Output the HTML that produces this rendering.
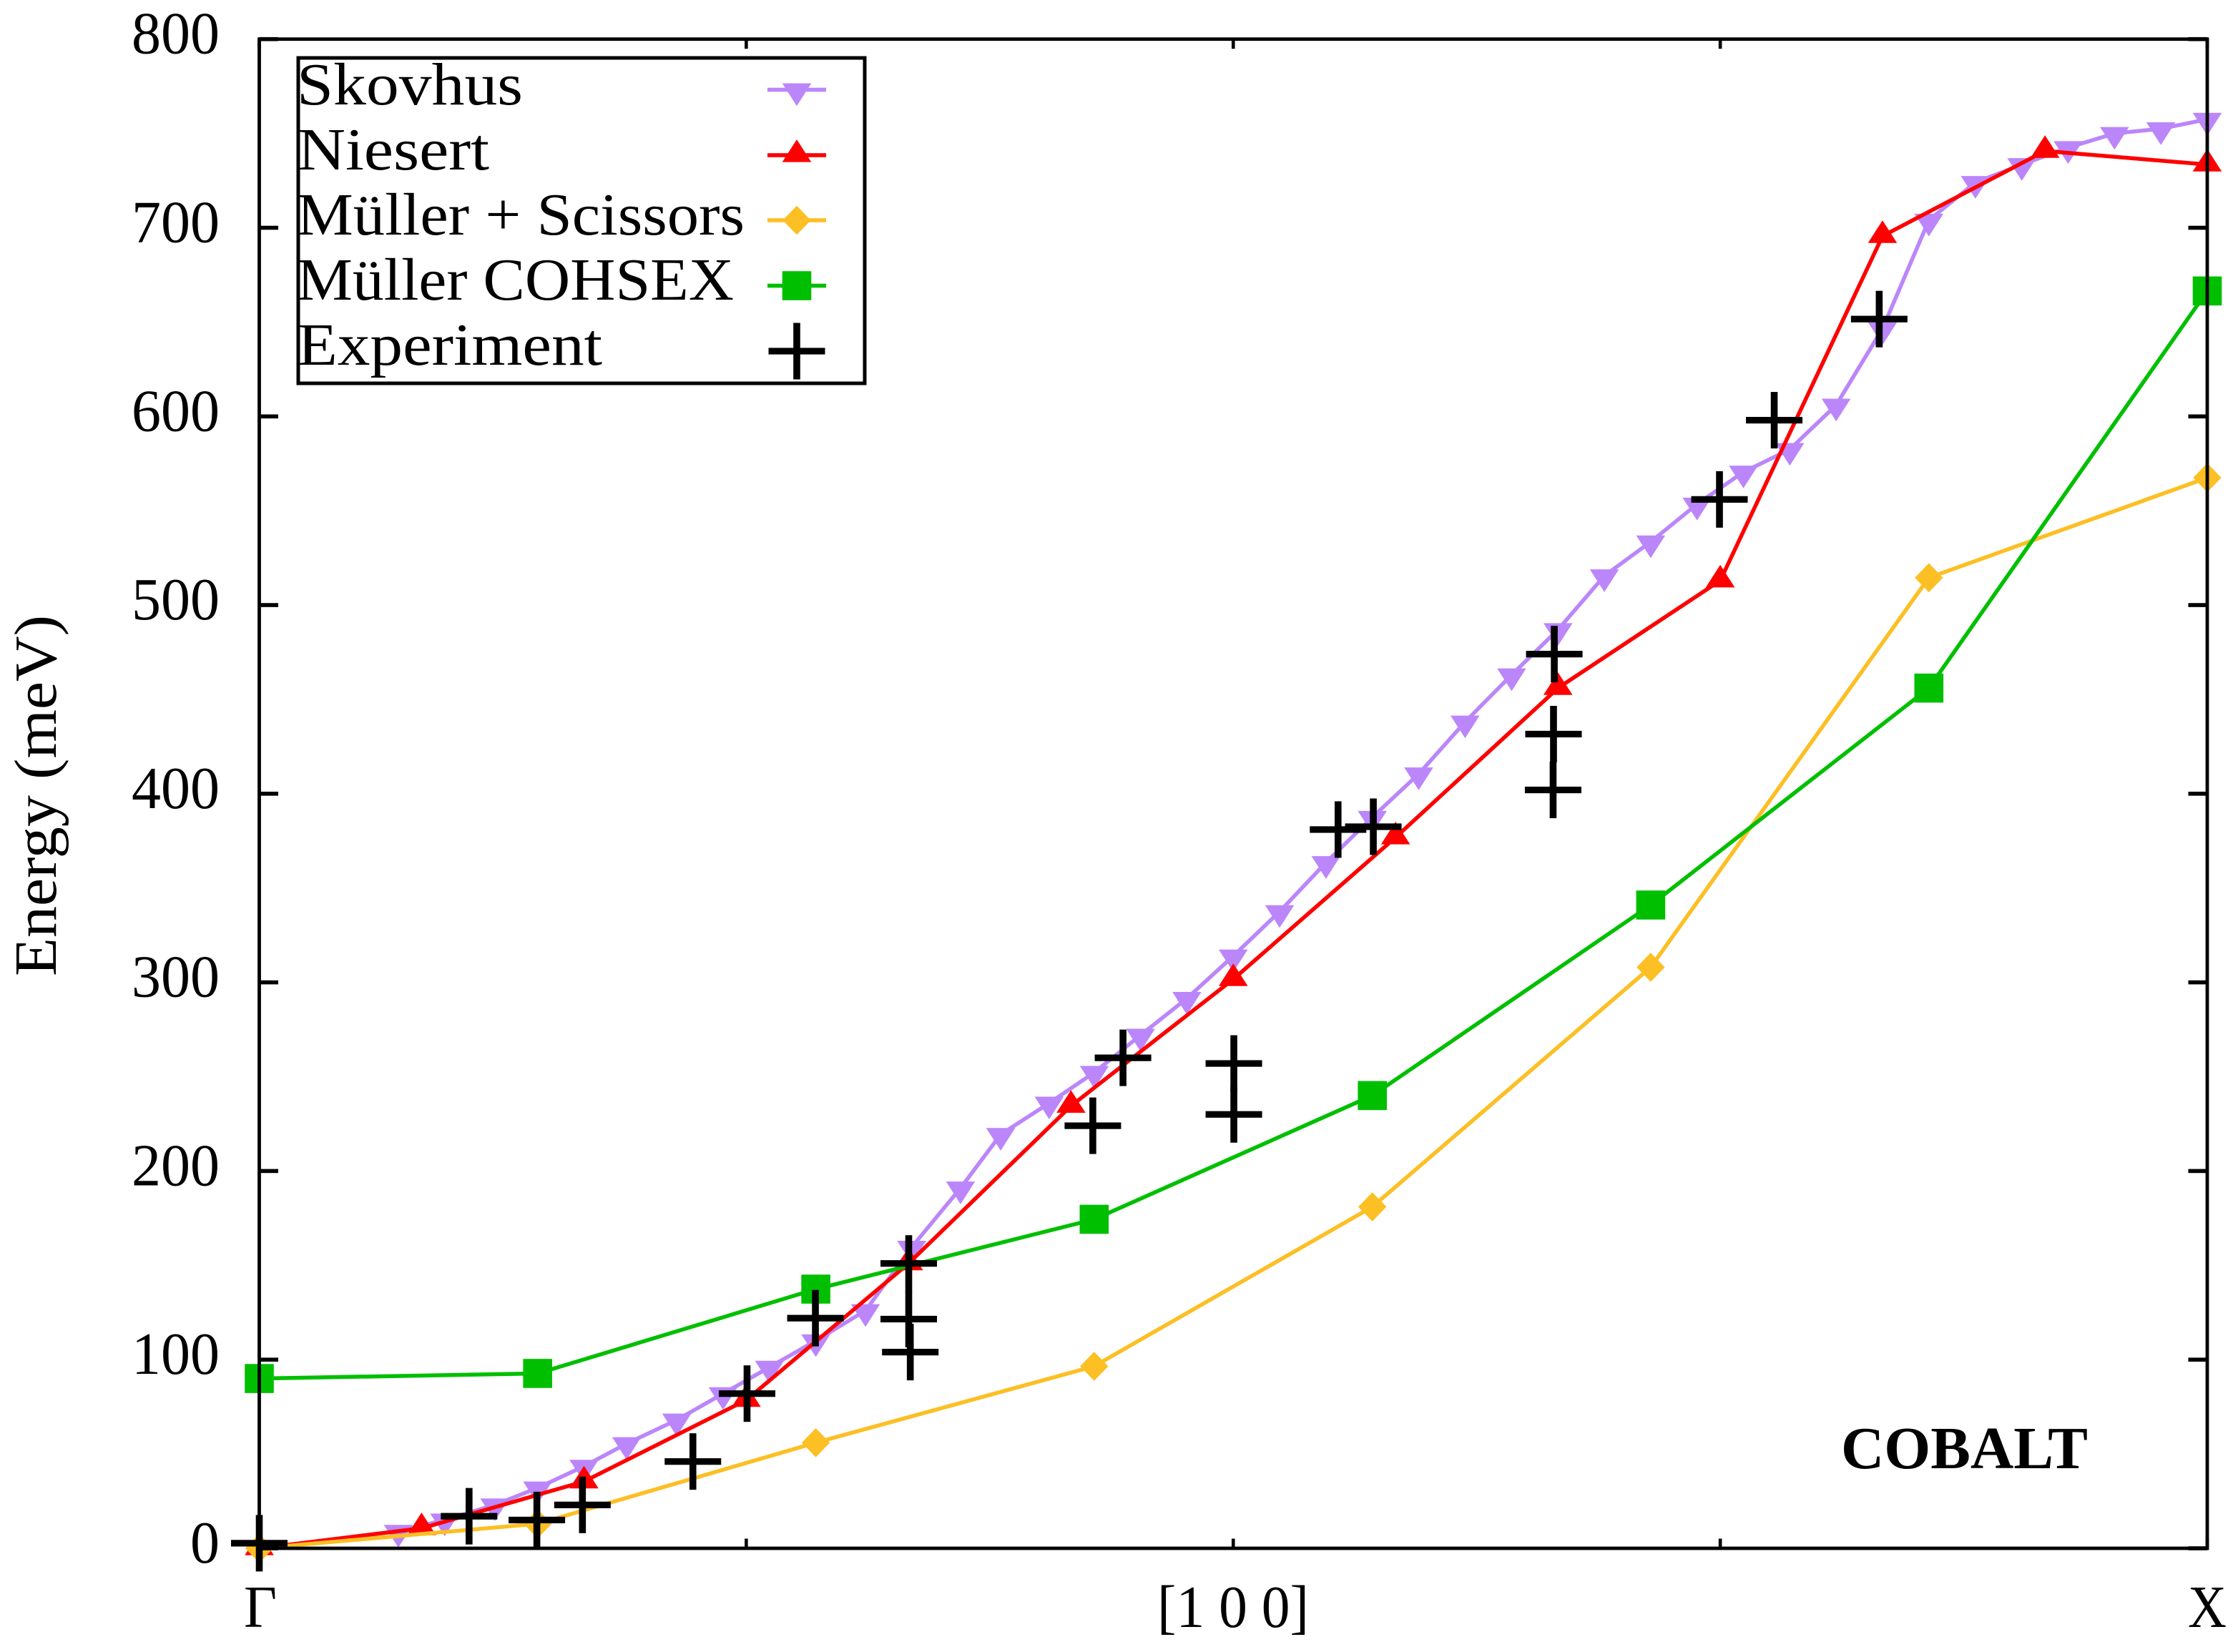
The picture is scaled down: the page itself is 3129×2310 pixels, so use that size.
<!DOCTYPE html>
<html lang="en">
<head>
<meta charset="utf-8">
<title>Cobalt magnon dispersion</title>
<style>
html,body{margin:0;padding:0;background:#fff;}
svg{display:block;}
text{font-family:"Liberation Serif",serif;fill:#000;}
</style>
</head>
<body>
<svg id="chart" xmlns="http://www.w3.org/2000/svg" width="3129" height="2310" viewBox="0 0 3129 2310">
  <rect x="0" y="0" width="3129" height="2310" fill="#ffffff"/>
  <g id="series-layer"></g>
  <g id="axis-layer"></g>
  <text transform="translate(78,1365) rotate(-90)" font-size="84" textLength="505" lengthAdjust="spacingAndGlyphs">Energy (meV)</text>
  <text x="1618" y="2275" font-size="84" textLength="212" lengthAdjust="spacingAndGlyphs">[1 0 0]</text>
  <text x="341" y="2275" font-size="84" textLength="46" lengthAdjust="spacingAndGlyphs">Γ</text>
  <text x="3059" y="2275" font-size="84" textLength="54" lengthAdjust="spacingAndGlyphs">X</text>
  <text x="2574" y="2053" font-size="84" font-weight="bold" textLength="345" lengthAdjust="spacingAndGlyphs">COBALT</text>
  <g>
    <rect x="417" y="81" width="792" height="455" fill="none" stroke="#000" stroke-width="5"/>
    <text x="415" y="146" font-size="84" textLength="316" lengthAdjust="spacingAndGlyphs">Skovhus</text>
    <text x="416" y="237" font-size="84" textLength="268" lengthAdjust="spacingAndGlyphs">Niesert</text>
    <text x="415" y="328" font-size="84" textLength="626" lengthAdjust="spacingAndGlyphs">Müller + Scissors</text>
    <text x="415" y="419" font-size="84" textLength="611" lengthAdjust="spacingAndGlyphs">Müller COHSEX</text>
    <text x="416" y="510" font-size="84" textLength="426" lengthAdjust="spacingAndGlyphs">Experiment</text>
    <g id="legend-keys"></g>
  </g>
</svg>
<script>
// ---- chart data ----
const yTickValues = [0, 100, 200, 300, 400, 500, 600, 700, 800];
const xTickValues = [0, 0.25, 0.5, 0.75, 1];

const skovhusX = [0.0714,0.0952,0.1209,0.1429,0.1667,0.1886,0.2143,0.2381,0.2619,0.2857,0.3112,0.3349,0.3600,0.3806,0.4055,0.4287,0.4524,0.4762,0.5000,0.5238,0.5476,0.5714,0.5952,0.6190,0.6429,0.6667,0.6905,0.7143,0.7381,0.7619,0.7857,0.8095,0.8333,0.8571,0.8810,0.9048,0.9286,0.9524,0.9762,1.0000];
const skovhusY = [9,15,23,32,43.5,55.5,68,82,96,110,126,159.6,191,219.4,236,252.3,272,291.5,314,337.5,363.5,387.5,410.5,438,463,487,515.5,533.5,553.5,570.5,582.5,606,646.5,704,724,733.5,742.5,750,752.5,757.5];

const niesertX = [0,0.0833,0.1667,0.25,0.3333,0.4167,0.5,0.5833,0.6667,0.75,0.8333,0.9167,1];
const niesertY = [0,10.6,35.4,78.6,151,234.5,301.7,376.8,456,513,695.6,740.7,733.5];

const scissorsX = [0,0.1429,0.2857,0.4286,0.5714,0.7143,0.8571,1];
const scissorsY = [0,13,56,96.5,181,308,514.5,567.5];

const cohsexX = [0,0.1429,0.2857,0.4286,0.5714,0.7143,0.8571,1];
const cohsexY = [90,92.7,137.4,174.4,240,341,456,666.5];

const experimentX = [0,0.1077,0.1425,0.1659,0.2226,0.2504,0.2855,0.3334,0.3334,0.3342,0.4279,0.4434,0.5003,0.5003,0.5538,0.5719,0.6648,0.6644,0.6642,0.7496,0.7777,0.8316];
const experimentY = [2.7,17,15,23,46,82,122,151,121.5,104,224,260,257,230,381,382.5,474,431.6,402,556,598,651.6];

// ---- axis functions ----
const plotLeft = 362.5, plotRight = 3086, plotTop = 54.7, plotBottom = 2165;
const xScale = t => plotLeft + (plotRight - plotLeft) * t;
const yScale = v => plotBottom - (plotBottom - plotTop) * v / 800;

const NS = 'http://www.w3.org/2000/svg';
function mk(tag, attrs, parent) {
  const el = document.createElementNS(NS, tag);
  for (const k in attrs) el.setAttribute(k, attrs[k]);
  parent.appendChild(el);
  return el;
}

function marker(kind, x, y, color, parent) {
  if (kind === 'down') {
    return mk('polygon', {points: `${x-20.3},${y-9} ${x+20.3},${y-9} ${x},${y+22.7}`, fill: color}, parent);
  }
  if (kind === 'up') {
    return mk('polygon', {points: `${x-20.3},${y+9.6} ${x+20.3},${y+9.6} ${x},${y-22}`, fill: color}, parent);
  }
  if (kind === 'diamond') {
    return mk('polygon', {points: `${x-19.7},${y} ${x},${y-20.3} ${x+19.7},${y} ${x},${y+20.3}`, fill: color}, parent);
  }
  if (kind === 'square') {
    return mk('rect', {x: x-20.3, y: y-20.3, width: 40.6, height: 40.6, fill: color}, parent);
  }
  const g = mk('g', {}, parent);
  mk('rect', {x: x-39.5, y: y-4.6, width: 79, height: 9.2, fill: color}, g);
  mk('rect', {x: x-4.8, y: y-39.5, width: 9.6, height: 79, fill: color}, g);
  return g;
}

const seriesLayer = document.getElementById('series-layer');
const axisLayer = document.getElementById('axis-layer');
const legendKeys = document.getElementById('legend-keys');

function drawSeries(key, xs, ys, color, kind, hasLine) {
  const g = mk('g', {}, seriesLayer);
  
  
  if (hasLine) {
    const pts = xs.map((t, i) => xScale(t).toFixed(1) + ',' + yScale(ys[i]).toFixed(1)).join(' ');
    const line = mk('polyline', {points: pts, fill: 'none', stroke: color, 'stroke-width': 5.5, 'stroke-linejoin': 'miter'}, g);
    
    
  }
  xs.forEach((t, i) => {
    const m = marker(kind, xScale(t), yScale(ys[i]), color, g);
    
    
  });
}

drawSeries('skovhus', skovhusX, skovhusY, '#bb86fa', 'down', true);
drawSeries('niesert', niesertX, niesertY, '#ff0000', 'up', true);
drawSeries('muller-scissors', scissorsX, scissorsY, '#fcbf24', 'diamond', true);
drawSeries('muller-cohsex', cohsexX, cohsexY, '#00bf00', 'square', true);
drawSeries('experiment', experimentX, experimentY, '#000000', 'plus', false);

// ---- axes ----
const frame = mk('rect', {x: plotLeft, y: plotTop, width: plotRight - plotLeft, height: plotBottom - plotTop, fill: 'none', stroke: '#000', 'stroke-width': 4.8}, axisLayer);



yTickValues.forEach(v => {
  const y = yScale(v);
  const left = mk('rect', {x: plotLeft, y: y - 2.8, width: 26.5, height: 5.6, fill: '#000'}, axisLayer);
  
  
  const right = mk('rect', {x: plotRight - 26.5, y: y - 2.8, width: 26.5, height: 5.6, fill: '#000'}, axisLayer);
  
  
  const label = String(v);
  const txt = mk('text', {x: 307, y: y + 20, 'font-size': 84, 'text-anchor': 'end', textLength: label.length * 41, lengthAdjust: 'spacingAndGlyphs'}, axisLayer);
  txt.textContent = label;
  
  
});

xTickValues.forEach(t => {
  const x = xScale(t);
  const bottom = mk('rect', {x: x - 2.3, y: plotBottom - 13.5, width: 4.6, height: 13.5, fill: '#000'}, axisLayer);
  
  
  const top = mk('rect', {x: x - 2.3, y: plotTop, width: 4.6, height: 13.5, fill: '#000'}, axisLayer);
  
  
});

// ---- legend keys ----
function legendKey(key, y, color, kind, hasLine) {
  const g = mk('g', {}, legendKeys);
  
  
  if (hasLine) {
    mk('rect', {x: 1073, y: y - 2.8, width: 82, height: 5.6, fill: color}, g);
  }
  marker(kind, 1114, y, color, g);
}
legendKey('skovhus', 125.5, '#bb86fa', 'down', true);
legendKey('niesert', 217, '#ff0000', 'up', true);
legendKey('muller-scissors', 308, '#fcbf24', 'diamond', true);
legendKey('muller-cohsex', 399.5, '#00bf00', 'square', true);
legendKey('experiment', 491, '#000000', 'plus', false);
</script>
</body>
</html>
